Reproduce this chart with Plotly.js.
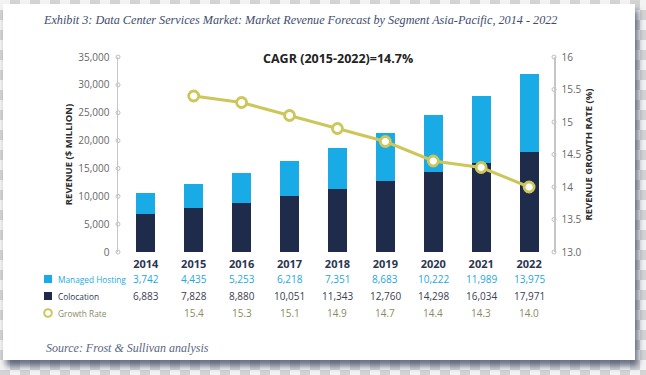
<!DOCTYPE html>
<html>
<head>
<meta charset="utf-8">
<script src="https://cdn.plot.ly/plotly-3.0.1.min.js"></script>
<style>
  html, body { margin: 0; padding: 0; width: 646px; height: 375px; overflow: hidden; }
  body {
    background-color: #f3f3f3;
    background-image: conic-gradient(#d4d4d4 25%, #f3f3f3 0 50%, #d4d4d4 0 75%, #f3f3f3 0);
    background-size: 20px 20px;
    position: relative;
  }
  #card {
    position: absolute; left: 3px; top: 4px; width: 632px; height: 356px;
    background: #ffffff;
    box-shadow: 3px 6px 6px rgba(60, 70, 100, 0.75);
  }
  #chart { position: absolute; left: 0; top: 0; width: 646px; height: 375px; }
</style>
</head>
<body>
<div id="card"></div>
<div id="chart"></div>
<script>
// ---- data ----
var years = ['2014', '2015', '2016', '2017', '2018', '2019', '2020', '2021', '2022'];
var managedHosting = [3742, 4435, 5253, 6218, 7351, 8683, 10222, 11989, 13975];
var colocation = [6883, 7828, 8880, 10051, 11343, 12760, 14298, 16034, 17971];
var growthRate = [null, 15.4, 15.3, 15.1, 14.9, 14.7, 14.4, 14.3, 14.0];
var leftTicks = [0, 5000, 10000, 15000, 20000, 25000, 30000, 35000];
var leftTickText = ['0', '5,000', '10,000', '15,000', '20,000', '25,000', '30,000', '35,000'];
var rightTicks = [13, 13.5, 14, 14.5, 15, 15.5, 16];
var rightTickText = ['13.0', '13.5', '14', '14.5', '15', '15.5', '16'];
var rowLabels = ['Managed Hosting', 'Colocation', 'Growth Rate'];

// ---- styles ----
var cBlue = '#19abe6', cNavy = '#1f2b4a', cYellow = '#cdc65a';
var font = 'Open Sans, Lato, sans-serif';
var serif = 'Liberation Serif, DejaVu Serif, serif';
var xs = years.map(function (_, i) { return i; });
var xRange = [-0.58, 8.52];

var traces = [
  { type: 'bar', name: 'Colocation', x: xs, y: colocation, marker: { color: cNavy }, width: 0.4, hoverinfo: 'skip' },
  { type: 'bar', name: 'Managed Hosting', x: xs, y: managedHosting, marker: { color: cBlue }, width: 0.4, hoverinfo: 'skip' },
  { type: 'scatter', mode: 'lines+markers', name: 'Growth Rate', x: xs, y: growthRate, yaxis: 'y2',
    line: { color: cYellow, width: 3 },
    marker: { size: 10, color: '#ffffff', line: { color: cYellow, width: 2.8 } },
    cliponaxis: false, hoverinfo: 'skip' },
  // small circular tick marks on the axis lines
  { type: 'scatter', mode: 'markers', x: leftTicks.map(function () { return xRange[0]; }), y: leftTicks,
    marker: { symbol: 'circle-open', size: 4, color: '#bdbdbd', line: { width: 1 } }, cliponaxis: false, hoverinfo: 'skip' },
  { type: 'scatter', mode: 'markers', x: rightTicks.map(function () { return xRange[1]; }), y: rightTicks, yaxis: 'y2',
    marker: { symbol: 'circle-open', size: 4, color: '#bdbdbd', line: { width: 1 } }, cliponaxis: false, hoverinfo: 'skip' }
];

// ---- table (annotations) ----
var plotTop = 57, plotBottom = 252, plotH = plotBottom - plotTop;
var plotLeft = 118, plotW = 554 - 118;
function py(p) { return (plotBottom - p) / plotH; }
function px(p) { return (p - plotLeft) / plotW; }
var rowY = [py(279), py(296), py(313)];
var rowColors = [cBlue, '#2a3550', '#8a8a62'];
var valColors = ['#1ba8e4', '#3b4050', '#8c8a5c'];

var annotations = [];
var rows = [
  managedHosting.map(function (v) { return v.toLocaleString('en-US'); }),
  colocation.map(function (v) { return v.toLocaleString('en-US'); }),
  growthRate.map(function (v) { return v === null ? '' : v.toFixed(1); })
];
rows.forEach(function (vals, r) {
  vals.forEach(function (t, i) {
    if (!t) return;
    annotations.push({ xref: 'x', yref: 'paper', x: xs[i], y: rowY[r], text: t, showarrow: false,
      xanchor: 'center', yanchor: 'middle', font: { family: font, size: 10, color: valColors[r] } });
  });
  annotations.push({ xref: 'paper', yref: 'paper', x: px(56), y: rowY[r], text: rowLabels[r], showarrow: false,
    xanchor: 'left', yanchor: 'middle', font: { family: font, size: 8.3, color: rowColors[r] } });
});
annotations.push({ xref: 'paper', yref: 'paper', x: px(338), y: py(58), text: '<b>CAGR (2015-2022)=14.7%</b>',
  showarrow: false, xanchor: 'center', yanchor: 'middle', font: { family: font, size: 12.5, color: '#222222' } });
annotations.push({ xref: 'paper', yref: 'paper', x: px(44), y: py(348), text: '<i>Source: Frost &amp; Sullivan analysis</i>',
  showarrow: false, xanchor: 'left', yanchor: 'middle', font: { family: serif, size: 12, color: '#5a6680' } });

var shapes = [
  { type: 'rect', xref: 'paper', yref: 'paper', xsizemode: 'pixel', ysizemode: 'pixel',
    xanchor: px(48), yanchor: rowY[0], x0: -4, x1: 4, y0: -4, y1: 4, fillcolor: cBlue, line: { width: 0 } },
  { type: 'rect', xref: 'paper', yref: 'paper', xsizemode: 'pixel', ysizemode: 'pixel',
    xanchor: px(48), yanchor: rowY[1], x0: -4, x1: 4, y0: -4, y1: 4, fillcolor: cNavy, line: { width: 0 } },
  { type: 'circle', xref: 'paper', yref: 'paper', xsizemode: 'pixel', ysizemode: 'pixel',
    xanchor: px(48), yanchor: rowY[2], x0: -3.8, x1: 3.8, y0: -3.8, y1: 3.8, fillcolor: 'rgba(0,0,0,0)', line: { color: cYellow, width: 2 } }
];

var layout = {
  width: 646, height: 375,
  margin: { l: plotLeft, r: 646 - 554, t: plotTop, b: 375 - plotBottom, pad: 0 },
  paper_bgcolor: 'rgba(0,0,0,0)', plot_bgcolor: 'rgba(0,0,0,0)',
  showlegend: false, barmode: 'stack',
  title: { text: '<i>Exhibit 3: Data Center Services Market: Market Revenue Forecast by Segment Asia-Pacific, 2014 - 2022</i>',
    x: 44 / 646, xanchor: 'left', xref: 'container', y: 1 - 20 / 375, yanchor: 'middle', yref: 'container',
    font: { family: serif, size: 12.2, color: '#3e4c6e' } },
  xaxis: { range: xRange, tickvals: xs, ticktext: years, showgrid: false, zeroline: false, showline: false,
    ticks: '', ticklabelstandoff: 4, tickfont: { family: font, size: 11, color: '#2b3550', weight: 'bold' }, fixedrange: true },
  yaxis: { range: [0, 35000], tickvals: leftTicks, ticktext: leftTickText, showgrid: false, zeroline: false,
    showline: true, linecolor: '#c6c6c6', linewidth: 1.5, ticks: '', ticklabelstandoff: 5,
    tickfont: { family: font, size: 10, color: '#666666' },
    title: { text: '<b>REVENUE ($ MILLION)</b>', standoff: 4, font: { family: font, size: 9.5, color: '#2b2b2b' } } },
  yaxis2: { overlaying: 'y', side: 'right', range: [13, 16], tickvals: rightTicks, ticktext: rightTickText,
    showgrid: false, zeroline: false, showline: true, linecolor: '#c6c6c6', linewidth: 1.5, ticks: '',
    ticklabelstandoff: 4, tickfont: { family: font, size: 10, color: '#666666' },
    title: { text: '<b>REVENUE GROWTH RATE (%)</b>', standoff: 5, font: { family: font, size: 9.5, color: '#2b2b2b' } } },
  annotations: annotations,
  shapes: shapes
};

Plotly.newPlot('chart', traces, layout, { staticPlot: true, displayModeBar: false });
</script>
</body>
</html>
